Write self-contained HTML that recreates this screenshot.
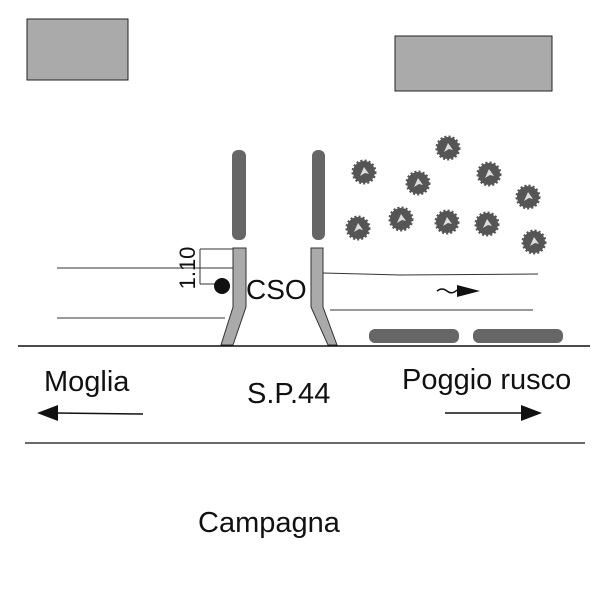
<!DOCTYPE html>
<html><head><style>body{margin:0;background:#fff}svg{display:block}text{font-family:"Liberation Sans",sans-serif;fill:#111}</style></head>
<body>
<svg width="600" height="600" viewBox="0 0 600 600" xmlns="http://www.w3.org/2000/svg">
<defs>
<g id="t"><circle r="11" fill="#555" stroke="#555" stroke-width="3" stroke-dasharray="2 2"/><path d="M-4 4 L0 -5 L5 2 L1 1 Z" fill="#ddd"/></g>
</defs>
<rect x="27" y="19" width="101" height="61" fill="#aaa" stroke="#222" stroke-width="1"/>
<rect x="395" y="36" width="157" height="55" fill="#aaa" stroke="#222" stroke-width="1"/>
<rect x="232" y="150" width="14" height="90" rx="6" fill="#666"/>
<rect x="312" y="150" width="13" height="90" rx="6" fill="#666"/>
<use href="#t" x="364" y="172"/><use href="#t" x="448" y="148"/><use href="#t" x="418" y="183"/>
<use href="#t" x="489" y="174"/><use href="#t" x="528" y="197"/><use href="#t" x="358" y="228"/>
<use href="#t" x="401" y="219"/><use href="#t" x="447" y="222"/><use href="#t" x="487" y="224"/>
<use href="#t" x="534" y="242"/>
<rect x="369" y="329" width="90" height="14" rx="6" fill="#666"/>
<rect x="473" y="329" width="90" height="14" rx="6" fill="#666"/>
<g stroke="#333" stroke-width="1" fill="none">
<line x1="57" y1="268" x2="233" y2="268"/>
<line x1="57" y1="318" x2="225" y2="318"/>
<path d="M323 273 L400 275 L538 274"/>
<line x1="330" y1="310" x2="533" y2="310"/>
<line x1="200" y1="249" x2="200" y2="284"/>
<line x1="200" y1="249" x2="233" y2="249"/>
<line x1="200" y1="284" x2="215" y2="284"/>
</g>
<path d="M233 248 H246 V307 L233 345 H221 L233 307 Z" fill="#aaa" stroke="#333"/>
<path d="M311 248 H323 V307 L337 345 H328 L311 307 Z" fill="#aaa" stroke="#333"/>
<line x1="18" y1="346" x2="590" y2="346" stroke="#111" stroke-width="1.5"/>
<line x1="25" y1="443" x2="585" y2="443" stroke="#111" stroke-width="1.2"/>
<circle cx="222" cy="286" r="8" fill="#111"/>
<text x="246" y="299" font-size="28">CSO</text>
<text transform="translate(195,268) rotate(-90)" font-size="22" text-anchor="middle">1.10</text>
<path d="M437 291 q5 -4 10 0 t10 -1" stroke="#111" stroke-width="1.5" fill="none"/>
<path d="M457 285 L480 291 L457 297 Z" fill="#111"/>
<text x="44" y="391" font-size="29">Moglia</text>
<text x="247" y="403" font-size="29">S.P.44</text>
<text x="402" y="389" font-size="29">Poggio rusco</text>
<text x="198" y="532" font-size="29">Campagna</text>
<line x1="143" y1="414" x2="55" y2="413" stroke="#111" stroke-width="1.5"/>
<path d="M37 413 L58 405 L58 421 Z" fill="#111"/>
<line x1="445" y1="413" x2="525" y2="413" stroke="#111" stroke-width="1.5"/>
<path d="M542 413 L521 405 L521 421 Z" fill="#111"/>
</svg>
</body></html>
